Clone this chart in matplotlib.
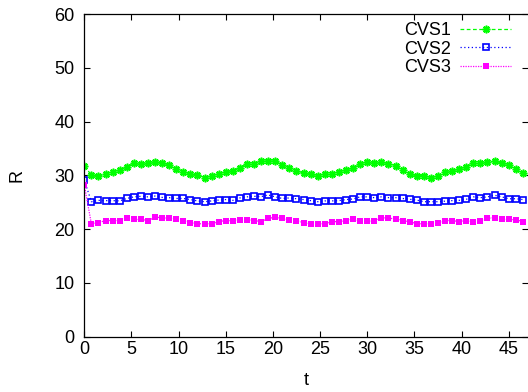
import numpy as np
import matplotlib
matplotlib.use('Agg')
import matplotlib.pyplot as plt

plt.rcParams['font.family'] = ['Liberation Sans', 'DejaVu Sans']

# sampled every 0.75 time units
t = [i * 0.75 for i in range(63)]

cvs1 = [31.7, 30.1, 29.8, 30.3, 30.6, 31.0, 31.55, 32.3, 32.05, 32.35,
        32.5, 32.35, 31.9, 31.1, 30.6, 30.2, 30.07, 29.6, 29.95, 30.3,
        30.65, 30.9, 31.4, 32.2, 32.1, 32.7, 32.6, 32.7, 31.9, 31.4,
        30.9, 30.4, 30.2, 29.95, 30.3, 30.3, 30.7, 31.0, 31.4, 32.05,
        32.4, 32.3, 32.4, 32.2, 31.8, 31.0, 30.3, 29.9, 29.95, 29.6,
        29.95, 30.6, 30.8, 31.2, 31.6, 32.3, 32.3, 32.4, 32.7, 32.3,
        32.0, 31.2, 30.4]

cvs2 = [29.1, 25.1, 25.35, 25.3, 25.3, 25.25, 25.7, 26.0, 26.1, 26.0,
        26.15, 25.9, 25.85, 25.7, 25.7, 25.5, 25.25, 25.1, 25.25, 25.4,
        25.5, 25.35, 25.8, 26.0, 26.1, 26.05, 26.35, 26.0, 25.7, 25.8,
        25.65, 25.5, 25.3, 25.1, 25.25, 25.25, 25.3, 25.5, 25.6, 26.0,
        26.0, 25.85, 26.0, 25.85, 25.85, 25.7, 25.55, 25.4, 25.1, 25.1,
        25.1, 25.2, 25.3, 25.35, 25.55, 26.0, 25.85, 26.0, 26.3, 26.0,
        25.65, 25.65, 25.5]

cvs3 = [28.2, 21.0, 21.2, 21.6, 21.6, 21.6, 22.0, 21.8, 21.8, 21.6,
        22.2, 22.15, 22.0, 21.95, 21.6, 21.2, 21.0, 21.0, 21.0, 21.4,
        21.6, 21.55, 21.75, 21.75, 21.6, 21.4, 22.0, 22.2, 22.0, 21.75,
        21.6, 21.2, 21.0, 21.0, 21.0, 21.4, 21.4, 21.55, 21.9, 21.45,
        21.45, 21.6, 22.15, 22.0, 21.95, 21.55, 21.4, 21.0, 21.0, 21.0,
        21.2, 21.6, 21.6, 21.4, 21.6, 21.4, 21.6, 22.0, 22.15, 21.8,
        21.8, 21.75, 21.4]

fs = 13

fig = plt.figure(figsize=(5.28, 3.92), dpi=100)
ax = fig.add_axes([84.3 / 528, 55.3 / 392, 1 - 84.3 / 528, 322.7 / 392])

ax.plot(t, cvs1, color='#00ff00', linestyle=(0, (3, 2)), linewidth=0.9,
        marker=(8, 2, 0), markersize=5.5, markeredgewidth=1.2, label='CVS1')
ax.plot(t, cvs2, color='#0000ff', linestyle=(0, (1, 2)), linewidth=0.9,
        marker='s', markersize=4.6, markerfacecolor='none', markeredgewidth=1.2,
        label='CVS2')
ax.plot(t, cvs3, color='#ff00ff', linestyle=(0, (1, 1)), linewidth=0.9,
        marker='s', markersize=5, markeredgewidth=0, label='CVS3')

ax.set_xlim(0, 47.05)
ax.set_ylim(0, 60)
ax.set_xticks(range(0, 50, 5))
ax.set_yticks(range(0, 70, 10))
ax.tick_params(direction='in', length=4, width=0.8, labelsize=fs,
               top=True, right=True)
ax.tick_params(axis='x', pad=3)
ax.tick_params(axis='y', pad=7)
for s in ax.spines.values():
    s.set_linewidth(0.9)
ax.spines['right'].set_visible(False)

ax.set_xlabel('t', fontsize=fs, labelpad=10)
ax.set_ylabel('R', fontsize=fs, labelpad=21)

ax.legend(loc='upper right', bbox_to_anchor=(0.98, 1.0), frameon=False,
          markerfirst=False, numpoints=1, fontsize=fs, handlelength=2.8,
          labelspacing=0.08, borderaxespad=0.05, handletextpad=0.55)

fig.savefig('out.png', dpi=100)
